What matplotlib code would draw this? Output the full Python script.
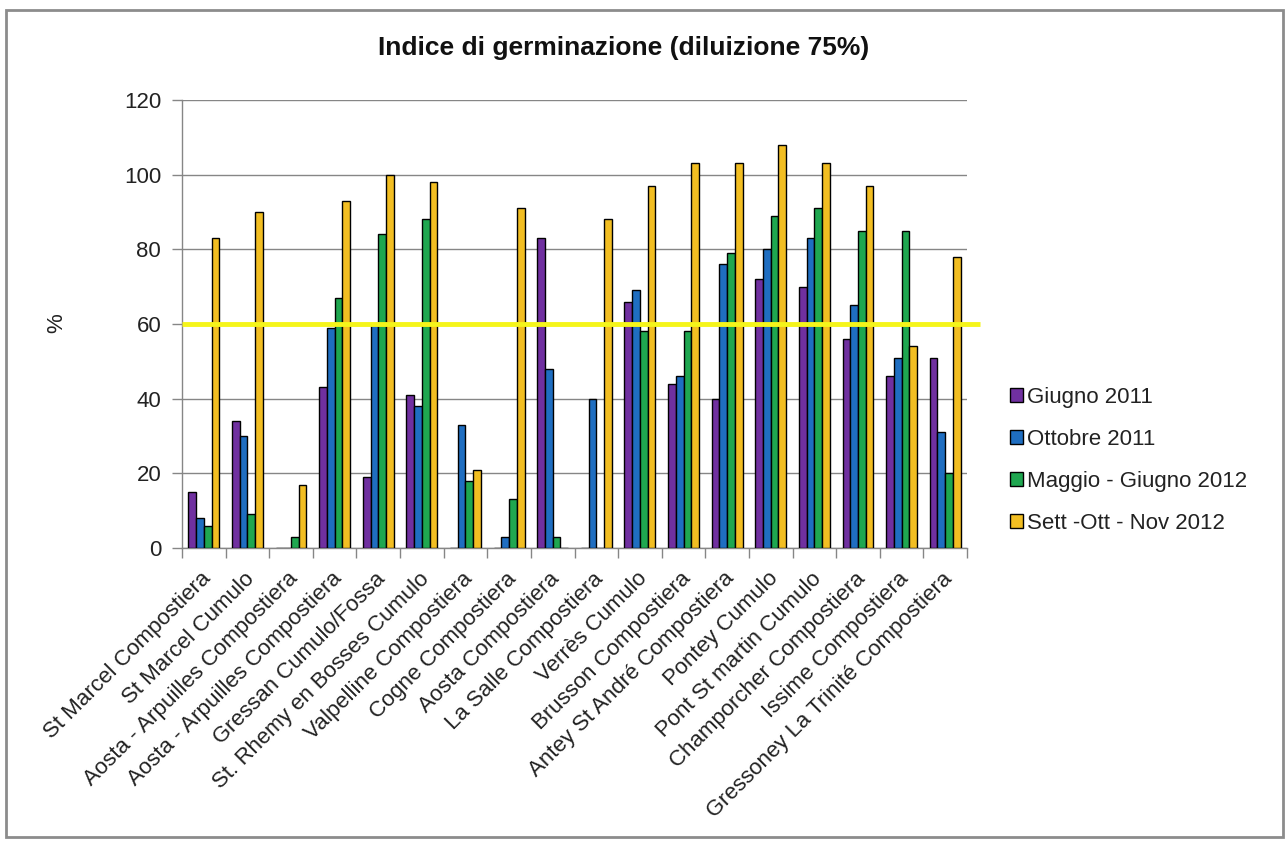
import matplotlib
matplotlib.use("Agg")
import matplotlib.pyplot as plt
import numpy as np
from matplotlib.patches import Rectangle
from matplotlib.transforms import ScaledTranslation

plt.rcParams['font.family'] = ['Liberation Sans', 'DejaVu Sans']

categories = [
    "St Marcel Compostiera", "St Marcel Cumulo", "Aosta - Arpuilles Compostiera",
    "Aosta - Arpuilles Compostiera", "Gressan Cumulo/Fossa", "St. Rhemy en Bosses Cumulo",
    "Valpelline Compostiera", "Cogne Compostiera", "Aosta Compostiera",
    "La Salle Compostiera", "Verrès Cumulo", "Brusson Compostiera",
    "Antey St André Compostiera", "Pontey Cumulo", "Pont St martin Cumulo",
    "Champorcher Compostiera", "Issime Compostiera", "Gressoney La Trinité Compostiera",
]
series_names = ["Giugno 2011", "Ottobre 2011", "Maggio - Giugno 2012", "Sett -Ott - Nov 2012"]
giugno_2011 = [15, 34, 0, 43, 19, 41, 0, 0, 83, 0, 66, 44, 40, 72, 70, 56, 46, 51]
ottobre_2011 = [8, 30, 0, 59, 60, 38, 33, 3, 48, 40, 69, 46, 76, 80, 83, 65, 51, 31]
maggio_giugno_2012 = [6, 9, 3, 67, 84, 88, 18, 13, 3, 0, 58, 58, 79, 89, 91, 85, 85, 20]
sett_ott_nov_2012 = [83, 90, 17, 93, 100, 98, 21, 91, 0, 88, 97, 103, 103, 108, 103, 97, 54, 78]
threshold = 60
y_ticks = [0, 20, 40, 60, 80, 100, 120]

series = [giugno_2011, ottobre_2011, maggio_giugno_2012, sett_ott_nov_2012]
colors = ["#7030A0", "#1F6EC1", "#1FA750", "#F2BE22"]

W, H = 1285, 843
fig = plt.figure(figsize=(W / 100, H / 100), dpi=100)
fig.patch.set_facecolor("white")

ax = fig.add_axes([182 / W, 1 - 548 / H, (967 - 182) / W, (548 - 100) / H])

x = np.arange(len(categories))
bw = 0.177
for i, (vals, c, name) in enumerate(zip(series, colors, series_names)):
    ax.bar(x + (i - 1.5) * bw, vals, width=bw, color=c, edgecolor="black",
           linewidth=1.0, label=name, zorder=3)

ax.set_xlim(-0.5, len(categories) - 0.5)
ax.set_ylim(0, 120)
ax.set_yticks(y_ticks)
ax.tick_params(axis="y", labelsize=16, length=7, width=1, color="#868686",
               pad=8, labelcolor="#222222")

# category boundaries carry the tick marks, labels sit at the centers
ax.set_xticks(x)
ax.set_xticks(np.arange(len(categories) + 1) - 0.5, minor=True)
ax.tick_params(axis="x", which="major", length=0, pad=4)
ax.tick_params(axis="x", which="minor", length=7, width=1, color="#868686")
labels = ax.set_xticklabels(categories, rotation=45, ha="right", va="center",
                            rotation_mode="anchor", fontsize=16, color="#222222")
offset = ScaledTranslation(4 / 100, -22 / 100, fig.dpi_scale_trans)
for lab in labels:
    lab.set_transform(lab.get_transform() + offset)

ax.grid(axis="y", color="#868686", linewidth=1, zorder=0)
ax.set_axisbelow(True)
for s in ["top", "right"]:
    ax.spines[s].set_visible(False)
for s in ["left", "bottom"]:
    ax.spines[s].set_color("#868686")
    ax.spines[s].set_linewidth(1)

# reference threshold line
ax.plot([-0.5, 17.8], [threshold, threshold], color="#F5F51A", linewidth=3.5,
        zorder=5, clip_on=False, solid_capstyle="butt")

fig.text(624 / W, 1 - 48 / H, "Indice di germinazione (diluizione 75%)",
         ha="center", va="center", fontsize=19, fontweight="bold", color="#111111")
fig.text(57 / W, 1 - 323 / H, "%", ha="center", va="center", rotation=90,
         fontsize=16, color="#222222")

leg = fig.legend(loc="upper left", bbox_to_anchor=(1010 / W, 1 - 387 / H),
                 frameon=False, fontsize=16, handlelength=0.58, handleheight=0.58,
                 handletextpad=0.2, labelspacing=0.94, borderaxespad=0, borderpad=0)
for t in leg.get_texts():
    t.set_color("#222222")

fig.patches.append(Rectangle((6 / W, 1 - 837 / H), (1283 - 6) / W, (837 - 10) / H,
                             transform=fig.transFigure, fill=False,
                             edgecolor="#8C8C8C", linewidth=2))

fig.savefig("out.png", dpi=100)
